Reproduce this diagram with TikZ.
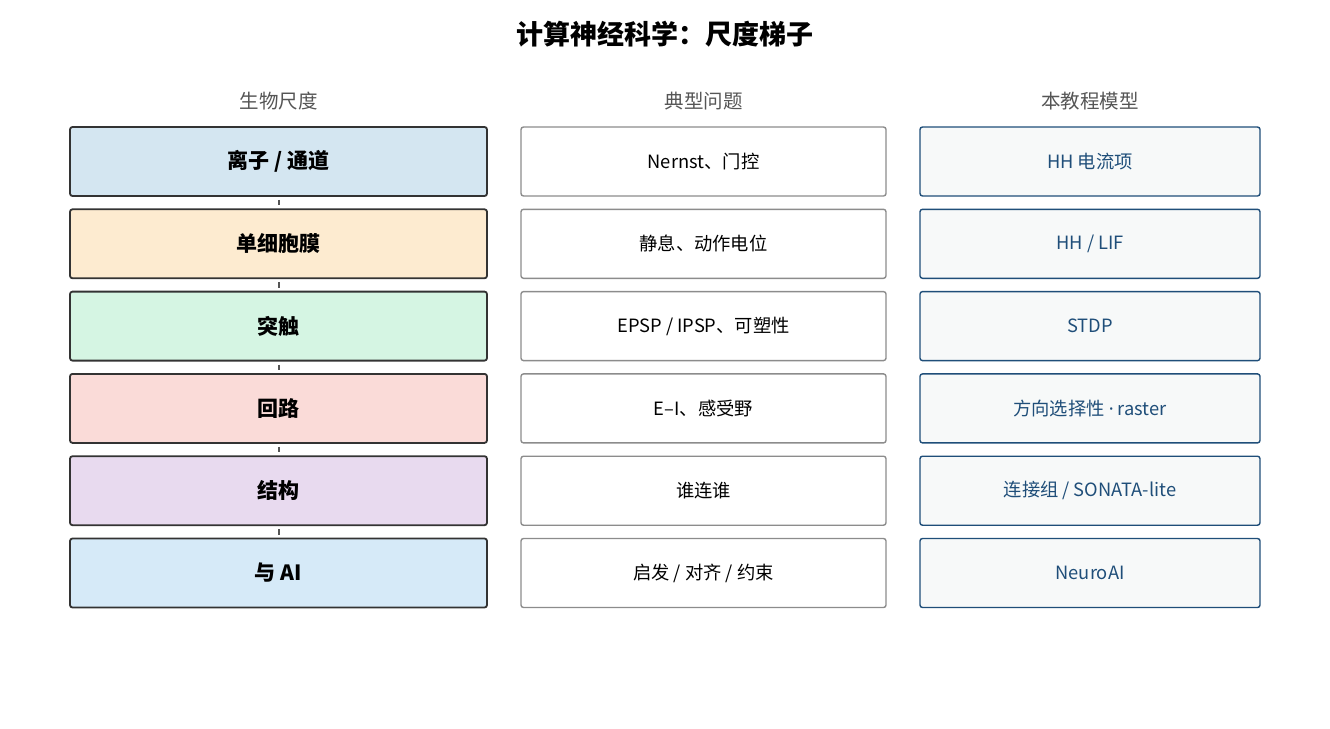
\documentclass[tikz,border=0pt]{standalone}
\usepackage{fontspec}
\setmainfont{Noto Sans CJK SC}
\newfontfamily\latinf{Noto Sans}
\definecolor{c1}{HTML}{D4E6F1}
\definecolor{c2}{HTML}{FDEBD0}
\definecolor{c3}{HTML}{D5F5E3}
\definecolor{c4}{HTML}{FADBD8}
\definecolor{c5}{HTML}{E8DAEF}
\definecolor{c6}{HTML}{D6EAF8}
\definecolor{edgedark}{HTML}{333333}
\definecolor{midedge}{HTML}{8C8C8C}
\definecolor{modelblue}{HTML}{1F4E79}
\definecolor{modelfill}{HTML}{F7F9F9}
\definecolor{headgray}{HTML}{555555}
\definecolor{linkgray}{HTML}{555555}
\begin{document}
\begin{tikzpicture}[x=1pt,y=-1pt,
  scalebox/.style={draw=edgedark,line width=1.8pt,rounded corners=2.5pt,minimum width=417pt,minimum height=69pt,inner sep=0pt,font=\fontsize{21}{25}\selectfont\bfseries},
  qbox/.style={draw=midedge,fill=white,line width=1.4pt,rounded corners=2.5pt,minimum width=365pt,minimum height=69pt,inner sep=0pt,font=\fontsize{18.3}{22}\selectfont},
  mbox/.style={draw=modelblue,fill=modelfill,line width=1.4pt,rounded corners=2.5pt,minimum width=340pt,minimum height=69pt,inner sep=0pt,text=modelblue,font=\fontsize{18.3}{22}\selectfont},
  head/.style={text=headgray,font=\fontsize{19.5}{23}\selectfont},
  link/.style={draw=linkgray,line width=2pt,shorten >=3pt,shorten <=3pt}
]
\useasboundingbox (0,0) rectangle (1330,728);
\node[font=\fontsize{27}{31}\selectfont\bfseries] (title) at (665,34) {计算神经科学：尺度梯子};
\node[head] (h1) at (278.5,101) {生物尺度};
\node[head] (h2) at (703.5,101) {典型问题};
\node[head] (h3) at (1090,101) {本教程模型};
% rows
\node[scalebox,fill=c1] (s1) at (278.5,161.5) {离子 / 通道};
\node[scalebox,fill=c2] (s2) at (278.5,243.8) {单细胞膜};
\node[scalebox,fill=c3] (s3) at (278.5,326.1) {突触};
\node[scalebox,fill=c4] (s4) at (278.5,408.4) {回路};
\node[scalebox,fill=c5] (s5) at (278.5,490.7) {结构};
\node[scalebox,fill=c6] (s6) at (278.5,573) {与 AI};
\node[qbox] (q1) at (703.5,161.5) {Nernst、门控};
\node[qbox] (q2) at (703.5,243.8) {静息、动作电位};
\node[qbox] (q3) at (703.5,326.1) {EPSP / IPSP、可塑性};
\node[qbox] (q4) at (703.5,408.4) {E–I、感受野};
\node[qbox] (q5) at (703.5,490.7) {谁连谁};
\node[qbox] (q6) at (703.5,573) {启发 / 对齐 / 约束};
\node[mbox] (m1) at (1090,161.5) {HH 电流项};
\node[mbox] (m2) at (1090,243.8) {HH / LIF};
\node[mbox] (m3) at (1090,326.1) {STDP};
\node[mbox] (m4) at (1090,408.4) {方向选择性 {\latinf ·} raster};
\node[mbox] (m5) at (1090,490.7) {连接组 / SONATA-lite};
\node[mbox] (m6) at (1090,573) {NeuroAI};
\draw[link] (s1.south) -- (s2.north);
\draw[link] (s2.south) -- (s3.north);
\draw[link] (s3.south) -- (s4.north);
\draw[link] (s4.south) -- (s5.north);
\draw[link] (s5.south) -- (s6.north);
\end{tikzpicture}
\end{document}
